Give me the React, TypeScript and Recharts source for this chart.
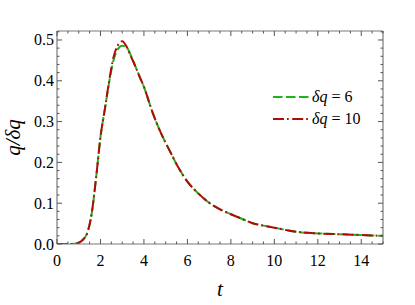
import React from 'react';
import { LineChart, Line, XAxis, YAxis, Legend } from 'recharts';

const tValues = [0, 0.5, 0.8, 1.0, 1.2, 1.4, 1.6, 1.8, 2.0, 2.2, 2.4, 2.6, 2.8, 3.0, 3.2, 3.4, 3.6, 3.8, 4.0, 4.4, 4.8, 5.2, 5.6, 6.0, 6.5, 7, 7.5, 8, 8.5, 9, 9.5, 10, 11, 12, 13, 14, 15];
const q6Values = [0, 0, 0.0005, 0.003, 0.011, 0.028, 0.076, 0.163, 0.262, 0.33, 0.396, 0.45, 0.477, 0.486, 0.482, 0.462, 0.436, 0.41, 0.385, 0.322, 0.27, 0.227, 0.186, 0.153, 0.124, 0.101, 0.085, 0.073, 0.062, 0.051, 0.045, 0.040, 0.030, 0.026, 0.024, 0.022, 0.020];
const q10Values = [0, 0, 0.0005, 0.003, 0.011, 0.028, 0.076, 0.163, 0.262, 0.33, 0.4, 0.458, 0.487, 0.497, 0.484, 0.46, 0.436, 0.41, 0.385, 0.322, 0.27, 0.227, 0.186, 0.153, 0.124, 0.101, 0.085, 0.073, 0.062, 0.051, 0.045, 0.040, 0.030, 0.026, 0.024, 0.022, 0.020];

const seriesKeys = ['q6', 'q10'];
const seriesNames = ['δq = 6', 'δq = 10'];
const seriesColors = ['#1db51d', '#b00a0a'];
const seriesDashes = ['9.5 3.5', '11 3 1.7 3.5'];

const xTicks = Array.from({ length: 31 }, (_, i) => i * 0.5);
const yTicks = Array.from({ length: 27 }, (_, i) => Math.round(i * 2) / 100);
const xDomain = [0, 15];
const yDomain = [0, 0.522];

const data = tValues.map((t, i) => ({ t, q6: q6Values[i], q10: q10Values[i] }));

const FONT = '"Liberation Serif"';
const AXIS = '#7a7a7a';
const TICK = '#555';
const TEXT = '#000';

const isMajorX = (v: number) => Math.abs(v / 2 - Math.round(v / 2)) < 1e-9;
const isMajorY = (v: number) => Math.round(v * 100) % 10 === 0;

const bottomTick = (props: any) => {
  const { x, y, payload } = props;
  const v = payload.value;
  const major = isMajorX(v);
  return (
    <g>
      <line x1={x} x2={x} y1={y} y2={y - (major ? 5 : 2.5)} stroke={TICK} strokeWidth={1} />
      {major && (
        <text x={x} y={y + 22} textAnchor="middle" style={{ fontFamily: FONT }} fontSize={16} fill={TEXT}>
          {v}
        </text>
      )}
    </g>
  );
};

const topTick = (props: any) => {
  const { x, y, payload } = props;
  const major = isMajorX(payload.value);
  return <line x1={x} x2={x} y1={y} y2={y + (major ? 5 : 2.5)} stroke={TICK} strokeWidth={1} />;
};

const leftTick = (props: any) => {
  const { x, y, payload } = props;
  const v = payload.value;
  const major = isMajorY(v);
  return (
    <g>
      <line x1={x} x2={x + (major ? 5 : 2.5)} y1={y} y2={y} stroke={TICK} strokeWidth={1} />
      {major && (
        <text x={x - 3} y={y + 5.5} textAnchor="end" style={{ fontFamily: FONT }} fontSize={16} fill={TEXT}>
          {v.toFixed(1)}
        </text>
      )}
    </g>
  );
};

const rightTick = (props: any) => {
  const { x, y, payload } = props;
  const major = isMajorY(payload.value);
  return <line x1={x} x2={x - (major ? 5 : 2.5)} y1={y} y2={y} stroke={TICK} strokeWidth={1} />;
};

const xLabel = (props: any) => {
  const vb = props.viewBox || {};
  return (
    <text x={vb.x + vb.width / 2} y={vb.y + 52} textAnchor="middle" style={{ fontFamily: FONT, fontStyle: 'italic' }} fontSize={21} fill={TEXT}>
      t
    </text>
  );
};

const yLabel = (props: any) => {
  const vb = props.viewBox || {};
  const cx = 20;
  const cy = vb.y + vb.height / 2;
  return (
    <text x={cx} y={cy} transform={`rotate(-90, ${cx}, ${cy})`} textAnchor="middle" style={{ fontFamily: FONT, fontStyle: 'italic' }} fontSize={21} fill={TEXT}>
      q/δq
    </text>
  );
};

const renderLegend = (props: any) => {
  const payload = [...(props.payload || [])].sort(
    (a: any, b: any) => seriesKeys.indexOf(a.dataKey) - seriesKeys.indexOf(b.dataKey)
  );
  return (
    <div style={{ fontFamily: FONT, fontSize: 16, color: TEXT, lineHeight: '22px' }}>
      {payload.map((entry: any, i: number) => {
        const idx = seriesKeys.indexOf(entry.dataKey);
        const name = String(entry.value);
        const parts = name.split(' = ');
        return (
          <div key={i} style={{ display: 'flex', alignItems: 'center', height: 22, whiteSpace: 'nowrap' }}>
            <svg width={39} height={10} style={{ display: 'block' }}>
              <line x1={0} y1={5} x2={36} y2={5} stroke={entry.color || seriesColors[idx]} strokeWidth={2} strokeDasharray={seriesDashes[idx]} />
            </svg>
            <span>
              <i>{parts[0]}</i>
              {' = ' + parts[1]}
            </span>
          </div>
        );
      })}
    </div>
  );
};

export default function App() {
  return (
    <div style={{ position: 'absolute', left: 0, top: 0, width: 415, height: 305, background: '#fff', fontFamily: FONT }}>
      <LineChart width={415} height={305} data={data} margin={{ top: 0, right: 0, bottom: 0, left: 0 }}>
        <XAxis
          dataKey="t"
          type="number"
          domain={xDomain}
          ticks={xTicks}
          interval={0}
          allowDataOverflow
          height={61}
          tickSize={0}
          tickMargin={0}
          tickLine={false}
          axisLine={{ stroke: AXIS, strokeWidth: 1.2 }}
          tick={bottomTick}
          label={xLabel}
        />
        <XAxis
          xAxisId="top"
          orientation="top"
          dataKey="t"
          type="number"
          domain={xDomain}
          ticks={xTicks}
          interval={0}
          allowDataOverflow
          height={31}
          tickSize={0}
          tickMargin={0}
          tickLine={false}
          axisLine={{ stroke: AXIS, strokeWidth: 1.2 }}
          tick={topTick}
        />
        <YAxis
          type="number"
          domain={yDomain}
          ticks={yTicks}
          interval={0}
          allowDataOverflow
          width={57}
          tickSize={0}
          tickMargin={0}
          tickLine={false}
          axisLine={{ stroke: AXIS, strokeWidth: 1.2 }}
          tick={leftTick}
          label={yLabel}
        />
        <YAxis
          yAxisId="right"
          orientation="right"
          type="number"
          domain={yDomain}
          ticks={yTicks}
          interval={0}
          allowDataOverflow
          width={32}
          tickSize={0}
          tickMargin={0}
          tickLine={false}
          axisLine={{ stroke: AXIS, strokeWidth: 1.2 }}
          tick={rightTick}
        />
        <Legend
          layout="vertical"
          align="center"
          verticalAlign="middle"
          content={renderLegend}
          wrapperStyle={{ left: 273, top: 86, width: 'auto', height: 'auto' }}
        />
        {seriesKeys.map((k, i) => (
          <Line
            key={k}
            dataKey={k}
            name={seriesNames[i]}
            type="monotone"
            stroke={seriesColors[i]}
            strokeWidth={2}
            strokeDasharray={seriesDashes[i]}
            dot={false}
            activeDot={false}
            isAnimationActive={false}
          />
        ))}
      </LineChart>
    </div>
  );
}
